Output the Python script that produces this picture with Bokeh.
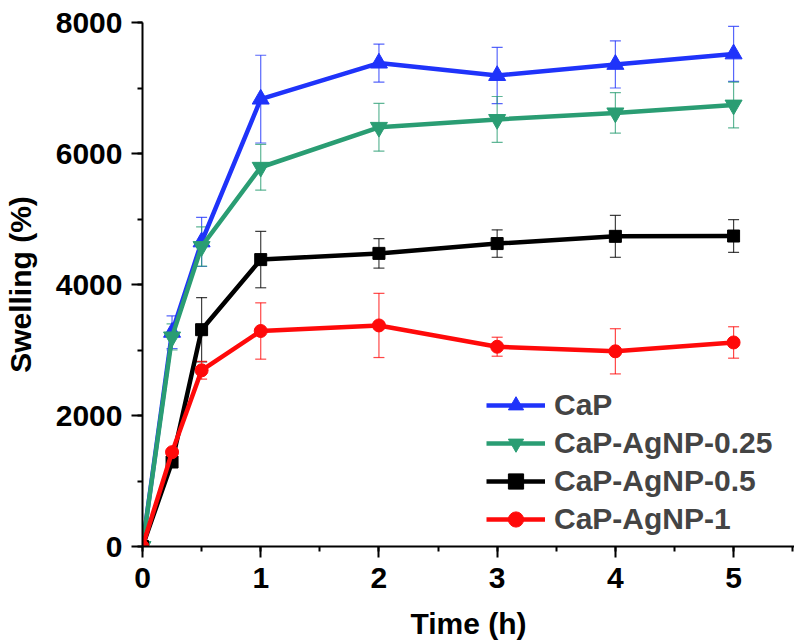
from bokeh.plotting import figure
from bokeh.models import (ColumnDataSource, Whisker, TeeHead, Range1d,
                          SingleIntervalTicker, Legend)
from bokeh.embed import file_html
from bokeh.resources import INLINE

# ---- data ----
time_h = [0, 0.25, 0.5, 1, 2, 3, 4, 5]

cap_mean = [0, 3270, 4650, 6830, 7380, 7190, 7360, 7520]
cap_err = [0, 250, 375, 670, 290, 430, 360, 420]

ag025_mean = [0, 3200, 4580, 5790, 6400, 6520, 6620, 6740]
ag025_err = [0, 200, 300, 350, 365, 350, 310, 350]

ag05_mean = [0, 1290, 3310, 4380, 4475, 4625, 4735, 4740]
ag05_err = [0, 50, 490, 430, 225, 210, 320, 250]

ag1_mean = [0, 1440, 2690, 3290, 3375, 3050, 2980, 3115]
ag1_err = [0, 30, 135, 430, 490, 145, 345, 240]

series_names = ["CaP", "CaP-AgNP-0.25", "CaP-AgNP-0.5", "CaP-AgNP-1"]
x_axis_title = "Time (h)"
y_axis_title = "Swelling (%)"

FONT = "Liberation Sans"
FS = "30px"

W, H = 794, 642
LEFT, TOP, BOTTOM = 141, 22, 96
p = figure(width=W, height=H, output_backend="svg", toolbar_location=None,
           x_range=Range1d(0, (W - LEFT) / 118.4), y_range=Range1d(0, 8000),
           min_border_left=LEFT, min_border_right=0, min_border_top=TOP,
           min_border_bottom=BOTTOM)
p.outline_line_color = None
p.grid.visible = False
p.background_fill_color = "white"

styles = [
    (series_names[0], cap_mean, cap_err, "#1F33FA", "triangle", 17),
    (series_names[1], ag025_mean, ag025_err, "#2A9D73", "inverted_triangle", 17),
    (series_names[2], ag05_mean, ag05_err, "#000000", "square", 12),
    (series_names[3], ag1_mean, ag1_err, "#FF0A0A", "circle", 13),
]

for name, mean, err, color, marker, size in styles:
    src = ColumnDataSource(dict(
        x=time_h, y=mean,
        upper=[m + e for m, e in zip(mean, err)],
        lower=[m - e for m, e in zip(mean, err)],
    ))
    w = Whisker(base="x", upper="upper", lower="lower", source=src,
                line_color=color, line_width=1.2, line_alpha=0.75,
                upper_head=TeeHead(size=11, line_color=color, line_width=1.2, line_alpha=0.75),
                lower_head=TeeHead(size=11, line_color=color, line_width=1.2, line_alpha=0.75))
    p.add_layout(w)

legend_items = []
for name, mean, err, color, marker, size in styles:
    src = ColumnDataSource(dict(x=time_h, y=mean))
    r1 = p.line("x", "y", source=src, line_color=color, line_width=4.5)
    r2 = p.scatter("x", "y", source=src, marker=marker, size=size,
                   fill_color=color, line_color=color)
    legend_items.append((name, [r1, r2]))

legend = Legend(items=legend_items, location=(344, 8))
legend.border_line_color = None
legend.background_fill_alpha = 0
legend.padding = 0
legend.margin = 0
legend.spacing = 0
legend.glyph_width = 59
legend.glyph_height = 38
legend.label_height = 38
legend.label_standoff = 9
legend.label_text_font = FONT
legend.label_text_font_style = "bold"
legend.label_text_font_size = FS
p.add_layout(legend, "center")

p.xaxis.ticker = SingleIntervalTicker(interval=1, num_minor_ticks=2)
p.yaxis.ticker = SingleIntervalTicker(interval=2000, num_minor_ticks=2)

for ax in (p.xaxis, p.yaxis):
    ax.axis_line_width = 2
    ax.major_tick_line_width = 2
    ax.minor_tick_line_width = 2
    ax.major_tick_out = 11
    ax.major_tick_in = 0
    ax.minor_tick_out = 5
    ax.minor_tick_in = 0
    ax.major_label_text_font = FONT
    ax.major_label_text_font_style = "bold"
    ax.major_label_text_font_size = FS
    ax.major_label_text_color = "black"
    ax.axis_label_text_font = FONT
    ax.axis_label_text_font_style = "bold"
    ax.axis_label_text_font_size = FS
    ax.axis_label_text_color = "black"

p.xaxis.major_label_standoff = 10
p.yaxis.major_label_standoff = 9
p.xaxis.axis_label = x_axis_title
p.yaxis.axis_label = y_axis_title
p.yaxis.axis_label_standoff = 16
p.xaxis.axis_label_standoff = 16

open("out.html", "w").write(file_html(p, INLINE))
